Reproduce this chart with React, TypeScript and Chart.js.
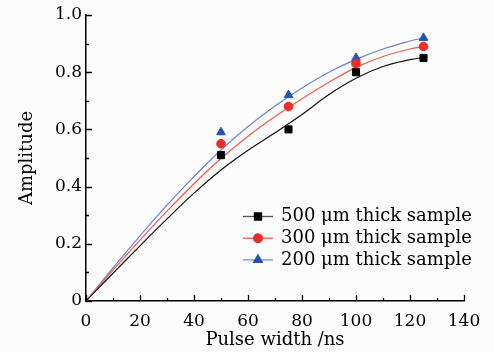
import React, { useEffect, useRef } from "react";
import { Chart, registerables } from "chart.js";
import { drawPoint } from "chart.js/helpers";

Chart.register(...registerables);

// Measured points
const pulseWidths = [50, 75, 100, 125];
const amp500 = [0.51, 0.6, 0.8, 0.85];
const amp300 = [0.55, 0.68, 0.83, 0.89];
const amp200 = [0.59, 0.72, 0.85, 0.92];

// Fitted curves
const fitX = [0, 10, 20, 30, 40, 50, 60, 70, 80, 90, 100, 110, 120, 125];
const fit500 = [0, 0.097, 0.193, 0.287, 0.377, 0.458, 0.527, 0.588, 0.652, 0.722, 0.779, 0.82, 0.844, 0.851];
const fit300 = [0, 0.108, 0.213, 0.314, 0.41, 0.498, 0.576, 0.645, 0.707, 0.765, 0.817, 0.855, 0.881, 0.89];
const fit200 = [0, 0.116, 0.228, 0.335, 0.435, 0.528, 0.61, 0.682, 0.745, 0.8, 0.845, 0.881, 0.909, 0.92];

const seriesLabels = ["500 μm thick sample", "300 μm thick sample", "200 μm thick sample"];
const xTickStep = 20;
const yTickStep = 0.2;
const xMin = 0, xMax = 140, yMin = 0, yMax = 1;
const xTitle = "Pulse width /ns";
const yTitle = "Amplitude";

const SERIF = "'DejaVu Serif', serif";

const styles = [
  { point: "#000000", line: "#111111", legendLine: "#555555", pointStyle: "rect", radius: 5 },
  { point: "#ee2a2a", line: "#f05a4a", legendLine: "#f05a4a", pointStyle: "circle", radius: 4.3 },
  { point: "#2552b0", line: "#6f80d2", legendLine: "#7f90d8", pointStyle: "triangle", radius: 5 },
];

const axisTicksPlugin = {
  id: "axisTicks",
  afterDraw(chart: any) {
    const { ctx, chartArea, scales } = chart;
    const xs = scales.x, ys = scales.y;
    ctx.save();
    ctx.strokeStyle = "#000";
    ctx.lineWidth = 1.3;
    ctx.beginPath();
    for (let i = 0; i <= (xMax - xMin) / (xTickStep / 2); i++) {
      const v = xMin + (i * xTickStep) / 2;
      const px = Math.round(xs.getPixelForValue(v)) + 0.5;
      const len = i % 2 === 0 ? 6 : 3;
      ctx.moveTo(px, chartArea.bottom);
      ctx.lineTo(px, chartArea.bottom - len);
    }
    const ny = Math.round((yMax - yMin) / (yTickStep / 2));
    for (let i = 0; i <= ny; i++) {
      const v = yMin + (i * yTickStep) / 2;
      const py = Math.round(ys.getPixelForValue(v)) + 0.5;
      const len = i % 2 === 0 ? 6 : 3;
      ctx.moveTo(chartArea.left, py);
      ctx.lineTo(chartArea.left + len, py);
    }
    ctx.stroke();
    ctx.restore();
  },
};

const legendPlugin = {
  id: "customLegend",
  afterDraw(chart: any) {
    const { ctx } = chart;
    ctx.save();
    const x0 = 243, x1 = 273, textX = 281, y0 = 216.5, dy = 21.7;
    ctx.font = `18px ${SERIF}`;
    ctx.textBaseline = "middle";
    ctx.textAlign = "left";
    seriesLabels.forEach((label, i) => {
      const y = y0 + i * dy;
      const st = styles[i];
      ctx.strokeStyle = st.legendLine;
      ctx.lineWidth = 1.3;
      ctx.beginPath();
      ctx.moveTo(x0, y);
      ctx.lineTo(x1, y);
      ctx.stroke();
      ctx.fillStyle = st.point;
      ctx.strokeStyle = st.point;
      drawPoint(ctx, { pointStyle: st.pointStyle as any, radius: st.radius, borderWidth: 1, rotation: 0 }, (x0 + x1) / 2, y);
      ctx.fillStyle = "#000";
      ctx.fillText(label, textX, y);
    });
    ctx.restore();
  },
};

const bgPlugin = {
  id: "bg",
  beforeDraw(chart: any) {
    const { ctx, width, height } = chart;
    ctx.save();
    ctx.fillStyle = "#fcfcfc";
    ctx.fillRect(0, 0, width, height);
    ctx.restore();
  },
};

export default function App() {
  const ref = useRef<HTMLCanvasElement | null>(null);

  useEffect(() => {
    document.body.style.margin = "0";
    if (!ref.current) return;
    const pointSets = [amp500, amp300, amp200];
    const fitSets = [fit500, fit300, fit200];
    const datasets: any[] = [];
    pointSets.forEach((arr, i) => {
      datasets.push({
        label: seriesLabels[i],
        data: pulseWidths.map((x, j) => ({ x, y: arr[j] })),
        showLine: false,
        pointStyle: styles[i].pointStyle,
        pointRadius: styles[i].radius,
        pointBackgroundColor: styles[i].point,
        pointBorderColor: styles[i].point,
        pointBorderWidth: 1,
        order: 0,
      });
    });
    fitSets.forEach((arr, i) => {
      datasets.push({
        label: seriesLabels[i] + " fit",
        data: fitX.map((x, j) => ({ x, y: arr[j] })),
        showLine: true,
        borderColor: styles[i].line,
        borderWidth: 1.2,
        pointRadius: 0,
        tension: 0.4,
        fill: false,
        order: 1,
      });
    });

    const chart = new Chart(ref.current, {
      type: "scatter",
      data: { datasets },
      options: {
        animation: false,
        responsive: false,
        devicePixelRatio: 1,
        layout: { padding: { top: 15, right: 30, left: 0, bottom: 0 } },
        plugins: { legend: { display: false }, tooltip: { enabled: false } },
        scales: {
          x: {
            type: "linear",
            min: xMin,
            max: xMax,
            grid: { display: false, drawTicks: false },
            border: { display: true, color: "#000", width: 1.5 },
            ticks: {
              stepSize: xTickStep,
              padding: 10,
              color: "#000",
              font: { family: SERIF, size: 17 },
              maxRotation: 0,
            },
            title: {
              display: true,
              text: xTitle,
              color: "#000",
              font: { family: SERIF, size: 18 },
              padding: { top: 0, bottom: 1 },
            },
            afterFit(s: any) {
              s.height = 51;
            },
          },
          y: {
            type: "linear",
            min: yMin,
            max: yMax,
            grid: { display: false, drawTicks: false },
            border: { display: true, color: "#000", width: 1.5 },
            ticks: {
              stepSize: yTickStep,
              padding: 4,
              color: "#000",
              font: { family: SERIF, size: 17 },
              callback: (v: any) => (Number(v) === 0 ? "0" : Number(v).toFixed(1)),
            },
            title: {
              display: true,
              text: yTitle,
              color: "#000",
              font: { family: SERIF, size: 18 },
              padding: { top: 17, bottom: 0 },
            },
            afterFit(s: any) {
              s.width = 86;
            },
          },
        },
      } as any,
      plugins: [bgPlugin, axisTicksPlugin, legendPlugin],
    });
    return () => chart.destroy();
  }, []);

  return (
    <div style={{ position: "absolute", left: 0, top: 0, width: 494, height: 352 }}>
      <canvas ref={ref} width={494} height={352} style={{ display: "block" }} />
    </div>
  );
}
